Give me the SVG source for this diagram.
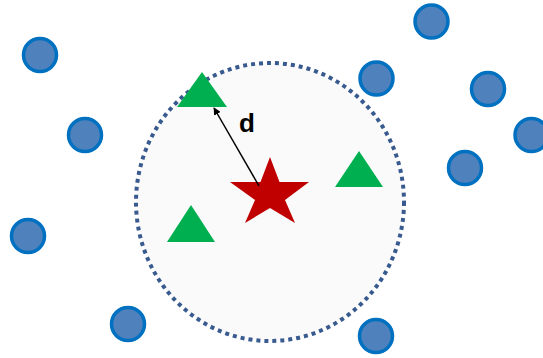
<svg xmlns="http://www.w3.org/2000/svg" width="543" height="358" viewBox="0 0 543 358">
<defs>
<style>
.pt{fill:#4F81BD;stroke:#0070C0;stroke-width:3.5}
.tri{fill:#00B050}
</style>
<marker id="ah" viewBox="0 0 10 10" refX="9" refY="5" markerWidth="5" markerHeight="5" orient="auto"><path d="M0,0L10,5L0,10z" fill="#000"/></marker>
</defs>
<rect width="543" height="358" fill="#fff"/>
<g id="region"><ellipse cx="270" cy="202" rx="134" ry="139" fill="#FAFAFA" stroke="#385A8E" stroke-width="4" stroke-dasharray="4 4"/></g>
<g id="points">
<circle class="pt" cx="40" cy="55" r="16.5"/>
<circle class="pt" cx="85" cy="135" r="16.5"/>
<circle class="pt" cx="28" cy="236" r="16.5"/>
<circle class="pt" cx="128" cy="324" r="16.5"/>
<circle class="pt" cx="376" cy="336" r="16.5"/>
<circle class="pt" cx="431.5" cy="21.5" r="16.5"/>
<circle class="pt" cx="376.5" cy="78.5" r="16.5"/>
<circle class="pt" cx="488" cy="89" r="16.5"/>
<circle class="pt" cx="531.5" cy="135" r="16.5"/>
<circle class="pt" cx="465" cy="168" r="16.5"/>
</g>
<g id="triangles">
<polygon class="tri" points="202,72 227,107 177,107"/>
<polygon class="tri" points="359,151 383,187 335,187"/>
<polygon class="tri" points="191,205 215,242 167,242"/>
</g>
<g id="star"><polygon fill="#C00000" points="270,157 279.5,182 309,182 285,200 295,223 270,208 245,223 255,200 230,182 260.5,182"/></g>
<g id="connectors"><line x1="259" y1="186" x2="214" y2="108" stroke="#000" stroke-width="1.5" marker-end="url(#ah)"/></g>
<text x="247" y="132" font-family="Liberation Sans, Arial, sans-serif" font-size="26" font-weight="bold" text-anchor="middle">d</text>
</svg>
